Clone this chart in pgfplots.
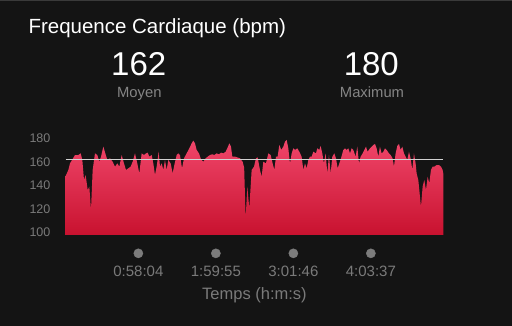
\documentclass[border=0pt]{standalone}
\usepackage{fontspec}
\setmainfont{Liberation Sans}
\usepackage{pgfplots}
\pgfplotsset{compat=1.18}
\definecolor{bg}{HTML}{141414}
\definecolor{topline}{HTML}{3A3A3A}
\definecolor{fillTop}{HTML}{F0466A}
\definecolor{fillBot}{HTML}{C8122F}
\definecolor{avgline}{HTML}{D2D2D2}
\definecolor{lblgray}{HTML}{858585}
\definecolor{tickgray}{HTML}{7A7A7A}
\definecolor{dotgray}{HTML}{7C7C7C}
\begin{document}
\begin{tikzpicture}[x=1pt,y=1pt]
\fill[bg] (0,0) rectangle (512,326);
\fill[topline] (0,324.6) rectangle (512,326);
% texts
\node[anchor=base west, inner sep=0pt, text=white, font=\fontsize{20.5}{24}\selectfont] at (28.3,292.7) {Frequence Cardiaque (bpm)};
\node[anchor=base, inner sep=0pt, text=white, font=\fontsize{33}{38}\selectfont] at (138.7,250) {162};
\node[anchor=base, inner sep=0pt, text=lblgray, font=\fontsize{14.8}{18}\selectfont] at (139.3,228.7) {Moyen};
\node[anchor=base, inner sep=0pt, text=white, font=\fontsize{33}{38}\selectfont] at (371.3,250) {180};
\node[anchor=base, inner sep=0pt, text=lblgray, font=\fontsize{14.8}{18}\selectfont] at (372,228.7) {Maximum};
\begin{axis}[
  at={(65.6pt,91.14pt)}, anchor=south west,
  scale only axis, width=377.7pt, height=102.45pt,
  xmin=0, xmax=301.43, ymin=98, ymax=185,
  clip=false,
  axis line style={draw=none},
  major tick length=0pt, tick style={draw=none},
  ytick={100,120,140,160,180},
  xtick={58.07,119.92,181.77,243.62},
  xticklabels={0:58:04,1:59:55,3:01:46,4:03:37},
  /pgf/number format/assume math mode=true,
  yticklabel style={anchor=east, inner sep=0pt, xshift=-15pt, text=tickgray, font=\fontsize{12.5}{14}\selectfont},
  xticklabel style={anchor=base, inner sep=0pt, yshift=-41.8pt, text=tickgray, font=\fontsize{15}{18}\selectfont},
  xlabel={Temps (h:m:s)},
  xlabel style={at={(axis description cs:0.5,0)}, anchor=base, inner sep=0pt, yshift=-64.4pt, text=tickgray, font=\fontsize{16.5}{19}\selectfont},
]
\addplot[draw=none, top color=fillTop, bottom color=fillBot] coordinates {
(0,98) (0.05,148) (2.18,153.1) (3.51,158.7) (7.50,165.8) (10.16,165.8) (12.02,167.2) (13.35,161.6) (14.68,144.6) (16.01,148.8) (17.61,136.1) (18.94,138.9) (20.27,119.1) (21.60,153.1) (23.46,167.2) (25.32,165.8) (26.92,160.1) (28.25,164.4) (30.11,172.9) (31.71,167.2) (33.30,161.6) (35.43,163.0) (37.56,160.1) (39.42,155.9) (41.28,158.7) (42.88,155.9) (44.74,165.8) (46.60,158.7) (48.20,153.1) (50.06,154.5) (51.92,155.9) (53.52,160.1) (55.38,167.2) (57.24,158.7) (58.84,150.2) (60.70,167.2) (62.56,165.8) (64.16,167.2) (65.49,167.8) (66.82,164.4) (68.68,165.8) (70.01,158.7) (71.34,148.8) (72.67,155.9) (74.27,168.6) (75.33,155.9) (76.66,158.7) (77.99,153.1) (79.32,161.6) (80.65,153.1) (81.98,161.6) (83.84,158.7) (85.44,150.2) (86.77,157.3) (88.63,165.8) (89.96,167.2) (91.29,165.8) (92.89,154.5) (94.48,163.0) (96.61,167.2) (98.74,171.5) (100.60,175.7) (101.93,178.0) (103.26,175.7) (104.59,170.1) (106.45,167.2) (108.05,162.1) (109.91,160.1) (111.77,163.0) (113.37,164.4) (115.23,165.8) (117.09,166.4) (118.69,165.8) (120.55,167.2) (122.41,166.4) (124.01,167.8) (125.87,167.2) (127.73,168.6) (129.06,171.5) (130.66,175.7) (131.99,172.9) (133.05,164.4) (135.18,164.4) (137.04,163.8) (139.17,163.0) (141.30,160.1) (142.50,155.0) (143.69,112.0) (145.02,138.9) (146.62,120.5) (148.48,153.1) (150.34,155.9) (151.94,163.0) (153.27,163.8) (155.13,153.1) (156.46,147.4) (157.79,160.1) (159.92,158.7) (161.78,167.2) (163.64,165.8) (165.24,158.7) (166.57,153.1) (167.90,164.4) (169.23,164.4) (170.56,174.3) (172.15,170.1) (173.75,172.9) (175.08,177.1) (176.41,178.6) (177.74,171.5) (179.07,158.7) (180.40,167.2) (181.73,171.5) (183.06,170.1) (184.92,171.5) (186.52,168.6) (188.38,164.4) (189.71,153.1) (191.04,158.7) (192.37,154.5) (193.70,161.6) (195.03,164.4) (196.36,164.4) (197.69,168.6) (199.82,167.2) (200.88,171.5) (202.48,170.1) (203.54,173.5) (204.87,167.2) (206.20,158.7) (207.53,167.2) (208.86,150.2) (210.19,165.8) (211.52,150.2) (212.85,164.4) (214.45,167.2) (215.78,163.0) (217.11,154.5) (218.44,158.7) (219.77,163.0) (221.63,170.1) (222.96,171.5) (224.29,170.1) (225.62,171.5) (226.95,167.2) (228.28,171.5) (229.61,170.1) (231.47,164.4) (232.80,172.9) (234.13,158.7) (235.46,164.4) (237.06,167.2) (238.39,170.1) (239.72,172.9) (241.05,168.6) (242.91,171.5) (244.24,172.9) (245.57,174.3) (246.90,175.2) (248.23,171.5) (249.56,164.4) (250.89,172.9) (252.22,167.2) (253.55,168.6) (254.88,171.5) (256.21,170.1) (258.07,167.2) (259.40,165.8) (261.00,163.0) (262.06,155.9) (263.39,167.2) (264.72,173.5) (266.05,175.2) (267.38,170.1) (268.71,172.9) (270.04,167.2) (271.37,164.4) (272.70,161.6) (274.03,168.6) (275.36,163.0) (276.69,153.1) (278.02,167.2) (279.35,158.7) (280.15,150.2) (281.48,144.6) (282.81,130.4) (283.61,121.9) (284.94,138.9) (286.27,144.6) (287.60,136.1) (288.93,147.4) (290.26,141.8) (291.59,153.1) (292.92,155.9) (294.25,155.9) (296.11,157.3) (297.97,157.3) (299.57,155.9) (300.90,153.1) (301.43,150.0) (301.43,98)
} -- cycle;
\addplot[avgline, line width=1pt] coordinates {(0,162) (301.43,162)};
\addplot[only marks, mark=*, mark size=4.6pt, color=dotgray] coordinates {(58.07,82.3) (119.92,82.3) (181.77,82.3) (243.62,82.3)};
\end{axis}
\pgfresetboundingbox
\path[use as bounding box] (0,0) rectangle (512,326);
\end{tikzpicture}
\end{document}
